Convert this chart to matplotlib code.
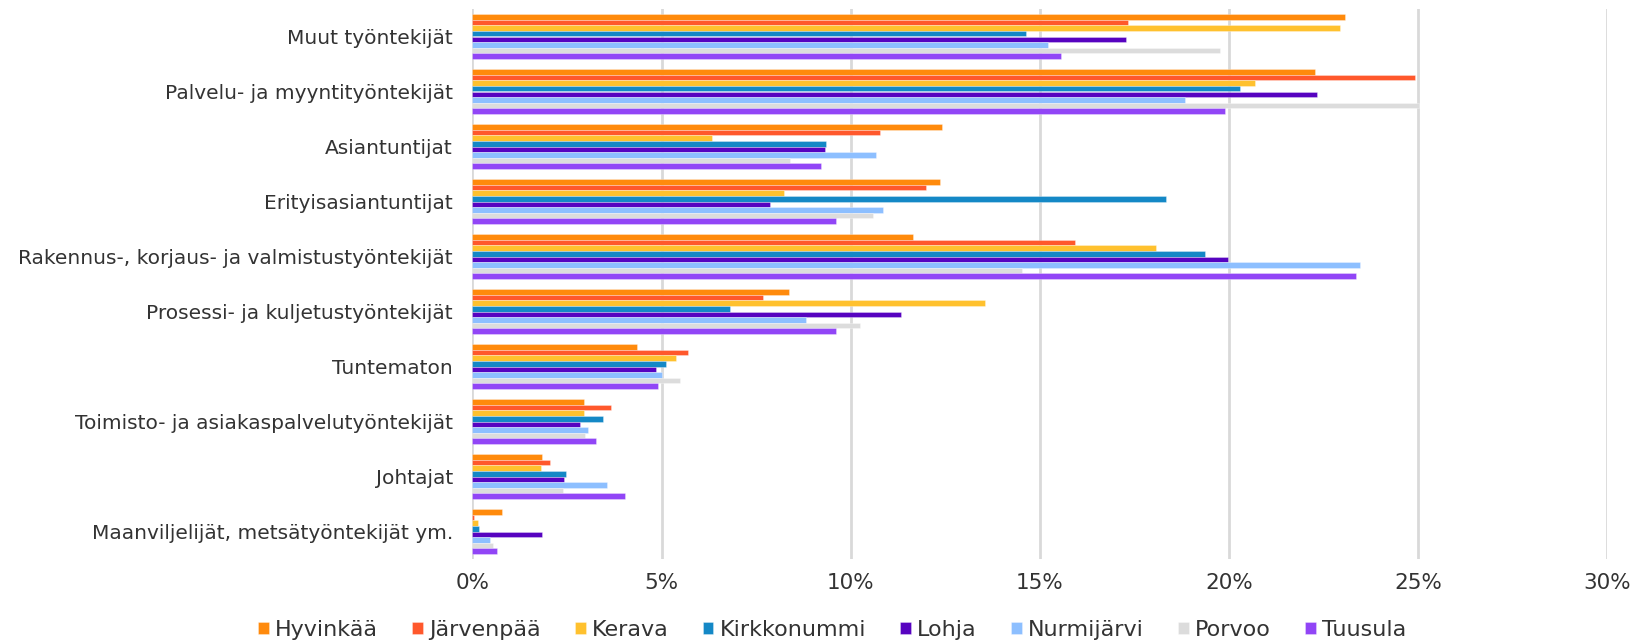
import matplotlib
matplotlib.use("Agg")
import matplotlib.pyplot as plt
import numpy as np
from matplotlib.ticker import FuncFormatter

categories = [
    "Muut työntekijät",
    "Palvelu- ja myyntityöntekijät",
    "Asiantuntijat",
    "Erityisasiantuntijat",
    "Rakennus-, korjaus- ja valmistustyöntekijät",
    "Prosessi- ja kuljetustyöntekijät",
    "Tuntematon",
    "Toimisto- ja asiakaspalvelutyöntekijät",
    "Johtajat",
    "Maanviljelijät, metsätyöntekijät ym.",
]

series_names = ["Hyvinkää", "Järvenpää", "Kerava", "Kirkkonummi",
                "Lohja", "Nurmijärvi", "Porvoo", "Tuusula"]

hyvinkaa    = [23.07, 22.28, 12.42, 12.36, 11.64, 8.38, 4.34, 2.95, 1.84, 0.77]
jarvenpaa   = [17.33, 24.93, 10.78, 11.99, 15.92, 7.69, 5.70, 3.65, 2.04, 0.04]
kerava      = [22.93, 20.69, 6.32, 8.24, 18.08, 13.54, 5.37, 2.95, 1.80, 0.14]
kirkkonummi = [14.63, 20.30, 9.34, 18.34, 19.36, 6.80, 5.12, 3.44, 2.46, 0.17]
lohja       = [17.28, 22.33, 9.31, 7.88, 19.98, 11.33, 4.85, 2.83, 2.42, 1.84]
nurmijarvi  = [15.21, 18.84, 10.67, 10.85, 23.46, 8.83, 5.01, 3.05, 3.55, 0.46]
porvoo      = [19.76, 25.03, 8.39, 10.59, 14.53, 10.26, 5.50, 2.97, 2.39, 0.53]
tuusula     = [15.55, 19.90, 9.21, 9.62, 23.36, 9.62, 4.90, 3.26, 4.04, 0.64]

series_values = [hyvinkaa, jarvenpaa, kerava, kirkkonummi, lohja, nurmijarvi, porvoo, tuusula]
colors = ["#FF8A0C", "#FF582C", "#FFC12E", "#1488C6",
          "#5703C0", "#8DBFFF", "#DCDCDC", "#9145F6"]

xticks = [0, 5, 10, 15, 20, 25, 30]

plt.rcParams['font.family'] = ['DejaVu Sans']
text_color = "#333333"

fig = plt.figure(figsize=(16.36, 6.43), dpi=100)
ax = fig.add_axes([472.5 / 1636, 1 - 559 / 643, (1607 - 472.5) / 1636, 550 / 643])

n = len(series_names)
bar_h = 0.82 / n
y = np.arange(len(categories))
for i, (name, vals, c) in enumerate(zip(series_names, series_values, colors)):
    offs = -0.41 + bar_h * (i + 0.5)
    ax.barh(y + offs, vals, height=bar_h, color=c, label=name,
            edgecolor=(1, 1, 1, 0.35), linewidth=0.6, zorder=3)

ax.set_ylim(len(categories) - 0.5, -0.5)
ax.set_xlim(0, 30)
ax.set_xticks(xticks)
ax.xaxis.set_major_formatter(FuncFormatter(lambda v, p: f"{int(v)}%"))
ax.set_yticks(y)
ax.set_yticklabels(categories)
ax.grid(axis='x', color="#D9D9D9", linewidth=2, zorder=0)
ax.set_axisbelow(True)
for s in ax.spines.values():
    s.set_visible(False)
ax.tick_params(axis='both', length=0, colors=text_color)
ax.tick_params(axis='y', labelsize=14.5, pad=14)
ax.tick_params(axis='x', labelsize=15.5, pad=10)

handles, labels = ax.get_legend_handles_labels()
leg = fig.legend(handles, labels, loc='center', bbox_to_anchor=(0.5086, 1 - 630 / 643),
                 ncol=n, frameon=False, fontsize=16, handlelength=0.48, handleheight=0.48,
                 handletextpad=0.27, columnspacing=1.55, labelcolor=text_color)

fig.savefig("out.png", dpi=100)
